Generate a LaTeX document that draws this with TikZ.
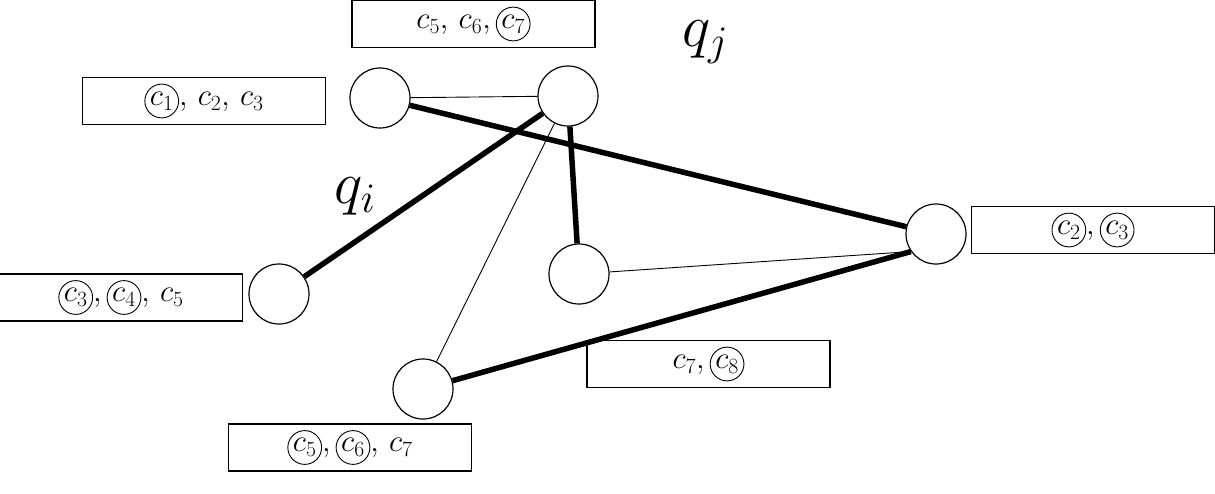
\RequirePackage{fix-cm}
\documentclass[tikz,border=0pt]{standalone}
\usepackage{amsmath}
\usepackage{tikz}
\usetikzlibrary{positioning}

\newcommand{\cc}[1]{\tikz[baseline=(cc.base)]\node[draw, circle, minimum width=0pt, minimum height=0pt, inner sep=1.5pt, line width=0.9pt] (cc) {$c_{#1}$};}

\begin{document}
\begin{tikzpicture}[
    x=1pt, y=-1pt,
    vertex/.style={draw, circle, minimum size=60pt, inner sep=0pt, line width=1.2pt},
    setbox/.style={draw, rectangle, minimum width=243pt, minimum height=47pt, inner sep=0pt, line width=1.2pt, font=\fontsize{31}{36}\selectfont},
    thin edge/.style={line width=0.9pt},
    thick edge/.style={line width=5.5pt},
    qlabel/.style={font=\fontsize{60}{66}\selectfont}
]
\useasboundingbox (0,0) rectangle (1215,493);

% vertices
\node[vertex] (a) at (380,98) {};
\node[vertex] (b) at (568,96) {};
\node[vertex] (c) at (936,234) {};
\node[vertex] (d) at (579,274) {};
\node[vertex] (e) at (279,294) {};
\node[vertex] (f) at (423,389) {};

% clause sets
\node[setbox] (sb) at (473.5,24) {$c_5,\, c_6,\cc{7}$};
\node[setbox] (sa) at (204,101) {$\cc{1},\, c_2,\, c_3$};
\node[setbox] (sc) at (1093,230) {$\cc{2},\cc{3}$};
\node[setbox] (se) at (121,297.5) {$\cc{3},\cc{4},\, c_5$};
\node[setbox] (sd) at (708.5,364) {$c_7,\cc{8}$};
\node[setbox] (sf) at (350,447.5) {$\cc{5},\cc{6},\, c_7$};

% labels
\node[qlabel] (qj) at (705,42) {$q_j$};
\node[qlabel] (qi) at (355,196) {$q_i$};

% edges
\draw[thin edge] (a) -- (b);
\draw[thin edge] (b) -- (f);
\draw[thin edge] (d) -- (c.215);
\draw[thick edge] (a) -- (c);
\draw[thick edge] (b) -- (e);
\draw[thick edge] (b) -- (d);
\draw[thick edge] (f) -- (c.215);

\end{tikzpicture}
\end{document}
